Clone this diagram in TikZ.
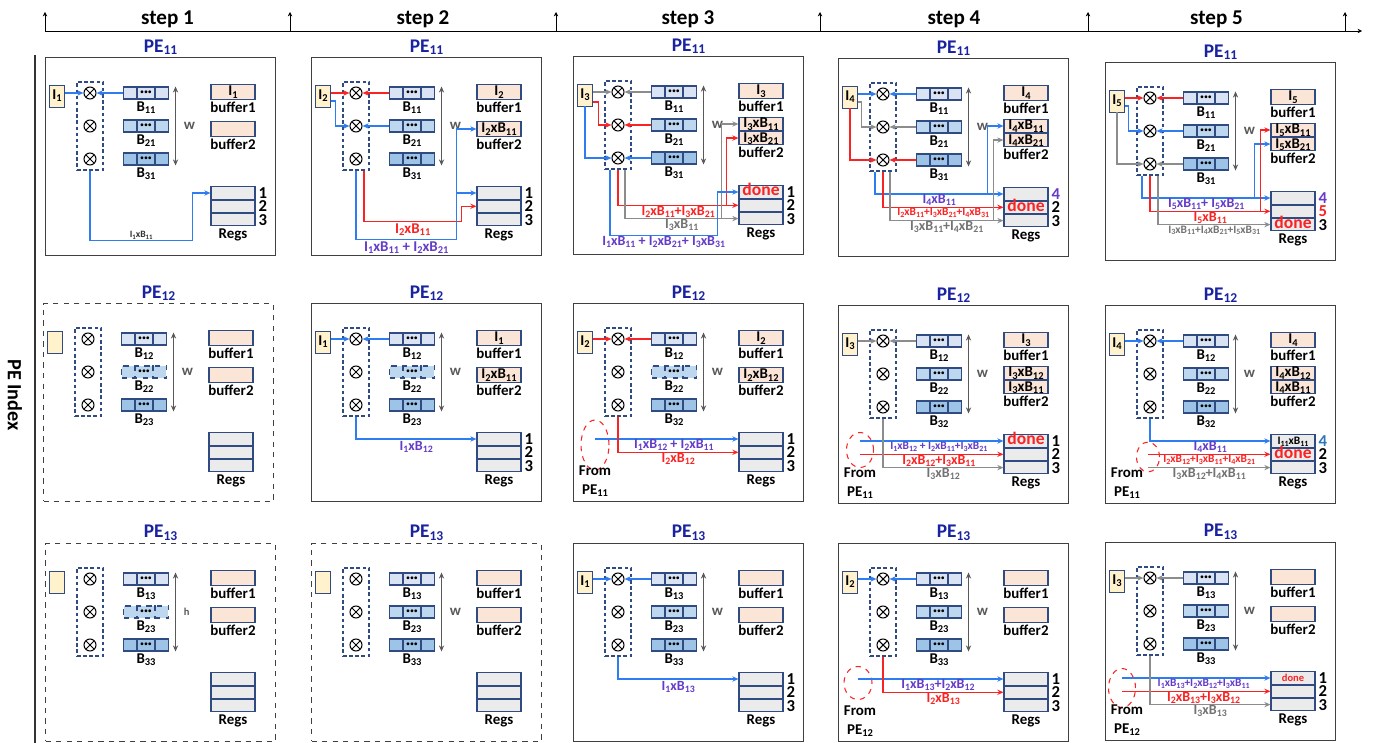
\documentclass[tikz,border=0pt]{standalone}
\usepackage{fontspec}
\setmainfont{Carlito}
\usepackage{graphicx}
\usepackage{xcolor}
\usepackage{tikz}
\usetikzlibrary{arrows.meta,positioning,shapes.geometric}

\definecolor{peblue}{RGB}{25,35,160}
\definecolor{sumpurple}{RGB}{100,60,200}
\definecolor{wireblue}{RGB}{45,125,240}
\definecolor{wirered}{RGB}{250,35,35}
\definecolor{wiregray}{RGB}{140,140,140}
\definecolor{numblue}{RGB}{46,117,182}
\definecolor{edgeblue}{RGB}{47,75,130}
\definecolor{infill}{RGB}{255,242,204}
\definecolor{buffill}{RGB}{251,229,214}
\definecolor{regfill}{RGB}{235,235,235}
\definecolor{bone}{RGB}{218,227,243}
\definecolor{btwo}{RGB}{189,215,238}
\definecolor{bthree}{RGB}{157,195,230}

\newcommand{\ix}[1]{\raisebox{-0.3ex}{\scalebox{0.7}{#1}}}
\newcommand{\regdone}{\textcolor{wirered}{\fontsize{10}{10}\selectfont done}}

% PE panel: [scope options]{name}{top left}{PE index}{input}{weight rows 1-3}{w label}
\newcommand{\peunit}[9][]{%
  \begin{scope}[shift={#3}, #1]
    \node[pebox] (#2) at (0,0) {};
    \node[pename] at (#2.north) {PE\ix{#4}};
    \node[ibox] (#2-i) at (12,39) {#5};
    \node[mulcol] (#2-mul) at (45,69) {};
    \foreach \k/\yy/\cc/\bst/\lab in {1/36/bone/bedge/{#6}, 2/69/btwo/bmid/{#7}, 3/102/bthree/bedge/{#8}}{
      \node[mul] (#2-m\k) at (45,\yy) {};
      \node[brow, \bst, fill=\cc] (#2-b\k) at (101,\yy) {\textbullet\textbullet\textbullet};
      \draw[\bst] ([xshift=-0.18cm]#2-b\k.north) -- ([xshift=-0.18cm]#2-b\k.south)
        ([xshift=0.18cm]#2-b\k.north) -- ([xshift=0.18cm]#2-b\k.south);
      \node[tag, below=0pt of #2-b\k] {\lab};
    }
    \draw[warrow] ([xshift=0.13cm]#2-b1.north east) -- ([xshift=0.13cm]#2-b3.south east)
      node[midway, right=1pt] {#9};
  \end{scope}}

% buffers: name, buffer1, buffer2, second cell of buffer2
\newcommand{\pebufs}[4]{%
  \node[buf] (#1-buf1) at ([shift={(188,35)}]#1.north west) {#2};
  \node[tag, below=0pt of #1-buf1] {buffer1};
  \if\relax\detokenize{#4}\relax
    \node[buf] (#1-buf2) at ([shift={(188,72)}]#1.north west) {#3};
    \node[tag, below=0pt of #1-buf2] {buffer2};
  \else
    \node[buf, minimum height=0.26cm] (#1-buf2) at ([shift={(188,68)}]#1.north west) {#3};
    \node[buf, minimum height=0.26cm, below=0pt of #1-buf2] (#1-buf3) {#4};
    \node[tag, below=0pt of #1-buf3] {buffer2};
  \fi}

% registers: name, rows 1-3, row numbers 1-3
\newcommand{\peregs}[7]{%
  \node[reg] (#1-r1) at ([shift={(188,136)}]#1.north west) {#2};
  \node[reg, below=0pt of #1-r1] (#1-r2) {#3};
  \node[reg, below=0pt of #1-r2] (#1-r3) {#4};
  \node[regno, right=1.5pt of #1-r1] {#5};
  \node[regno, right=1.5pt of #1-r2] {#6};
  \node[regno, right=1.5pt of #1-r3] {#7};
  \node[tag, below=0pt of #1-r3] {Regs};}

% dashed ring for partial sums coming from the PE above
\newcommand{\pefrom}[4]{%
  \node[fromring, #3] (#1-e) at ([shift={#2}]#1.north west) {};
  \node[fromtext] at ([shift={(22,178)}]#1.north west) {From\\PE\ix{#4}};}

\begin{document}
\begin{tikzpicture}[x=0.02cm, y=-0.02cm, font=\bfseries\fontsize{8.5}{10}\selectfont,
    >={Stealth[length=3.5pt, width=3pt]},
    pebox/.style={draw=black!75, line width=0.6pt, minimum width=4.6cm, minimum height=3.96cm, anchor=north west, inner sep=0},
    pename/.style={above=1pt, inner sep=0, text=peblue, font=\bfseries\fontsize{11}{12}\selectfont},
    ibox/.style={draw=edgeblue, fill=infill, minimum width=0.3cm, minimum height=0.44cm, inner sep=0},
    mulcol/.style={draw=edgeblue, line width=0.6pt, dash pattern=on 2pt off 1.5pt, minimum width=0.52cm, minimum height=1.76cm, inner sep=0},
    mul/.style={circle, draw, line width=0.6pt, minimum size=0.24cm, inner sep=0,
      path picture={\draw[line width=0.6pt] (path picture bounding box.south west) -- (path picture bounding box.north east)
        (path picture bounding box.north west) -- (path picture bounding box.south east);}},
    brow/.style={minimum width=0.9cm, minimum height=0.24cm, inner sep=0, font=\fontsize{4.5}{4.5}\selectfont},
    bedge/.style={draw=edgeblue, line width=0.6pt},
    bmid/.style={draw=edgeblue, line width=0.6pt},
    tag/.style={inner sep=1pt},
    warrow/.style={<->, black!65, line width=0.7pt},
    buf/.style={draw=edgeblue, line width=0.6pt, fill=buffill, minimum width=0.88cm, minimum height=0.3cm, inner sep=0, text height=5.5pt, text depth=1pt},
    reg/.style={draw=edgeblue, line width=0.6pt, fill=regfill, minimum width=0.88cm, minimum height=0.245cm, inner sep=0, text height=5pt, text depth=0.5pt},
    regno/.style={inner sep=0, font=\bfseries\fontsize{9.5}{9.5}\selectfont},
    fromring/.style={ellipse, draw=wirered, dashed, line width=0.6pt, inner sep=0},
    fromtext/.style={align=center, inner sep=0, font=\bfseries\fontsize{8.5}{11}\selectfont},
    wb/.style={->, wireblue, line width=0.7pt},
    wr/.style={->, wirered, line width=0.7pt},
    wg/.style={->, wiregray, line width=0.7pt},
    sumtext/.style={inner sep=0.5pt, text height=4.8pt, text depth=0.6pt, font=\bfseries\fontsize{8}{8}\selectfont},
    sb/.style={sumtext, text=sumpurple},
    sr/.style={sumtext, text=wirered},
    sg/.style={sumtext, text=black!55},
    sumsmall/.style={font=\bfseries\fontsize{6.5}{7}\selectfont, text height=4pt},
    sumtiny/.style={font=\bfseries\fontsize{5.5}{6}\selectfont, text height=3.5pt},
    tick/.style={->, black, line width=0.5pt, >={Stealth[length=2.5pt, width=2.5pt]}},
    steptext/.style={above=1.5pt, inner sep=0, font=\bfseries\fontsize{12}{13}\selectfont}]
  \useasboundingbox (0,0) rectangle (1374,743);

  % time axis
  \foreach \k/\xx in {0/45,1/290,2/556,3/820,4/1088,5/1345}{
    \coordinate (t\k) at (\xx,31);
    \draw[tick] (t\k) -- ++(0,-19);
  }
  \coordinate (tend) at (1362,31);
  \draw[tick] (t0) -- (tend);
  \foreach \a/\b/\n in {0/1/1,1/2/2,2/3/3,3/4/4,4/5/5}
    \path (t\a) -- (t\b) node[midway, steptext] {step \n};
  \draw[black!80, line width=0.6pt] (35,55) -- (35,743);
  \node[rotate=-90, font=\bfseries\fontsize{11.5}{12}\selectfont] at (15,395) {PE Index};

  % step 1
  \peunit{s1a}{(45,57)}{11}{I\ix{1}}{B\ix{11}}{B\ix{21}}{B\ix{31}}{w}
  \pebufs{s1a}{I\ix{1}}{}{}
  \peregs{s1a}{}{}{}{1}{2}{3}
  \draw[wb] (s1a-i.east |- s1a-m1) -- (s1a-m1);
  \draw[wb] (s1a-b1) -- (s1a-m1);
  \draw[wb] (s1a-mul.south) -- ++(0,70) -| ([xshift=-0.36cm]s1a-r1.west)
    node[pos=0.25, above, sumtext, sumtiny, text=black!80] {I\ix{1}xB\ix{11}} -- (s1a-r1);

  \peunit[pebox/.append style=dashed, bmid/.append style=dashed]{s1b}{(43,303)}{12}{}{B\ix{12}}{B\ix{22}}{B\ix{23}}{w}
  \pebufs{s1b}{}{}{}
  \peregs{s1b}{}{}{}{}{}{}

  \peunit[pebox/.append style=dashed, bmid/.append style=dashed]{s1c}{(45,543)}{13}{}{B\ix{13}}{B\ix{23}}{B\ix{33}}{\fontsize{6}{6}\selectfont h}
  \pebufs{s1c}{}{}{}
  \peregs{s1c}{}{}{}{}{}{}

  % step 2
  \peunit{s2a}{(311,57)}{11}{I\ix{2}}{B\ix{11}}{B\ix{21}}{B\ix{31}}{w}
  \pebufs{s2a}{I\ix{2}}{I\ix{2}xB\ix{11}}{}
  \peregs{s2a}{}{}{}{1}{2}{3}
  \draw[wr] (s2a-i.east |- s2a-m1) -- (s2a-m1);
  \draw[wb] ([yshift=-0.1cm]s2a-i.east) -- ++(5,0) |- (s2a-m2);
  \draw[wr] (s2a-b1) -- (s2a-m1);
  \draw[wb] (s2a-b2) -- (s2a-m2);
  \draw[wr] ([xshift=0.16cm]s2a-mul.south) -- ++(0,51) -| ([xshift=-0.3cm]s2a-r2.west)
    node[pos=0.25, below=1pt, sr, font=\bfseries\fontsize{8.5}{9}\selectfont] {I\ix{2}xB\ix{11}} -- (s2a-r2);
  \draw[wb] (s2a-mul.south) -- ++(0,69) -| ([xshift=-0.4cm]s2a-r1.west)
    node[pos=0.25, below=1pt, sb, font=\bfseries\fontsize{8.5}{9}\selectfont] {I\ix{1}xB\ix{11} + I\ix{2}xB\ix{21}} -- (s2a-r1);
  \draw[wb] ([xshift=-0.4cm]s2a-r1.west) |- (s2a-buf2);

  \peunit[bmid/.append style=dashed]{s2b}{(311,303)}{12}{I\ix{1}}{B\ix{12}}{B\ix{22}}{B\ix{23}}{w}
  \pebufs{s2b}{I\ix{1}}{I\ix{2}xB\ix{11}}{}
  \peregs{s2b}{}{}{}{1}{2}{3}
  \draw[wb] (s2b-i.east |- s2b-m1) -- (s2b-m1);
  \draw[wb] (s2b-b1) -- (s2b-m1);
  \draw[wb] (s2b-mul.south) |- (s2b-r1) node[pos=0.75, below=1pt, sb] {I\ix{1}xB\ix{12}};

  \peunit[pebox/.append style=dashed]{s2c}{(311,543)}{13}{}{B\ix{13}}{B\ix{23}}{B\ix{33}}{w}
  \pebufs{s2c}{}{}{}
  \peregs{s2c}{}{}{}{}{}{}

  % step 3
  \peunit{s3a}{(573,56)}{11}{I\ix{3}}{B\ix{11}}{B\ix{21}}{B\ix{31}}{w}
  \pebufs{s3a}{I\ix{3}}{I\ix{3}xB\ix{11}}{I\ix{3}xB\ix{21}}
  \peregs{s3a}{\regdone}{}{}{1}{2}{3}
  \draw[wg] (s3a-i.east |- s3a-m1) -- (s3a-m1);
  \draw[wr] ([yshift=-0.14cm]s3a-i.east) -- ++(6,0) |- (s3a-m2);
  \draw[wb] (s3a-i.south) |- (s3a-m3);
  \draw[wg] (s3a-b1) -- (s3a-m1);
  \draw[wr] (s3a-b2) -- (s3a-m2);
  \draw[wb] (s3a-b3) -- (s3a-m3);
  \draw[wr] (s3a-mul.south) |- (s3a-r2) node[pos=0.75, below, sr] {I\ix{2}xB\ix{11}+I\ix{3}xB\ix{21}};
  \draw[wr] ([xshift=-0.24cm]s3a-r2.west) |- (s3a-buf3);
  \draw[wg] ([xshift=0.14cm]s3a-mul.south) |- (s3a-r3) node[pos=0.75, below, sg] {I\ix{3}xB\ix{11}};
  \draw[wg] ([xshift=-0.34cm]s3a-r3.west) |- (s3a-buf2);
  \draw[wb] ([xshift=-0.16cm]s3a-mul.south) -- ++(0,66) -| ([xshift=-0.42cm]s3a-r1.west)
    node[pos=0.25, below, sb] {I\ix{1}xB\ix{11} + I\ix{2}xB\ix{21}+ I\ix{3}xB\ix{31}} -- (s3a-r1);

  \peunit[bmid/.append style=dashed]{s3b}{(573,303)}{12}{I\ix{2}}{B\ix{12}}{B\ix{22}}{B\ix{32}}{w}
  \pebufs{s3b}{I\ix{2}}{I\ix{2}xB\ix{12}}{}
  \peregs{s3b}{}{}{}{1}{2}{3}
  \pefrom{s3b}{(22,142)}{minimum width=0.56cm, minimum height=1cm}{11}
  \draw[wr] (s3b-i.east |- s3b-m1) -- (s3b-m1);
  \draw[wr] (s3b-b1) -- (s3b-m1);
  \draw[wb] (s3b-e.center |- s3b-r1) -- (s3b-r1) node[pos=0.55, below, sb] {I\ix{1}xB\ix{12} + I\ix{2}xB\ix{11}};
  \draw[wr] (s3b-mul.south) |- (s3b-r2) node[pos=0.75, below, sr] {I\ix{2}xB\ix{12}};

  \peunit{s3c}{(573,543)}{13}{I\ix{1}}{B\ix{13}}{B\ix{23}}{B\ix{33}}{w}
  \pebufs{s3c}{}{}{}
  \peregs{s3c}{}{}{}{1}{2}{3}
  \draw[wb] (s3c-i.east |- s3c-m1) -- (s3c-m1);
  \draw[wb] (s3c-b1) -- (s3c-m1);
  \draw[wb] (s3c-mul.south) |- (s3c-r1) node[pos=0.75, below=1pt, sb] {I\ix{1}xB\ix{13}};

  % step 4
  \peunit{s4a}{(838,58)}{11}{I\ix{4}}{B\ix{11}}{B\ix{21}}{B\ix{31}}{w}
  \pebufs{s4a}{I\ix{4}}{I\ix{4}xB\ix{11}}{I\ix{4}xB\ix{21}}
  \peregs{s4a}{}{\regdone}{}{\textcolor{sumpurple}{4}}{2}{3}
  \draw[wb] (s4a-i.east |- s4a-m1) -- (s4a-m1);
  \draw[wg] ([yshift=-0.1cm]s4a-i.east) -- ++(4,0) |- (s4a-m2);
  \draw[wr] (s4a-i.south) |- (s4a-m3);
  \draw[wb] (s4a-b1) -- (s4a-m1);
  \draw[wg] (s4a-b2) -- (s4a-m2);
  \draw[wr] (s4a-b3) -- (s4a-m3);
  \draw[wb] ([xshift=-0.16cm]s4a-mul.south) |- (s4a-r1) node[pos=0.75, below, sb] {I\ix{4}xB\ix{11}};
  \draw[wb] ([xshift=-0.32cm]s4a-r1.west) |- (s4a-buf2);
  \draw[wr] (s4a-mul.south) |- (s4a-r2) node[pos=0.75, below, sr, sumsmall] {I\ix{2}xB\ix{11}+I\ix{3}xB\ix{21}+I\ix{4}xB\ix{31}};
  \draw[wg] ([xshift=0.14cm]s4a-mul.south) |- (s4a-r3) node[pos=0.75, below, sg] {I\ix{3}xB\ix{11}+I\ix{4}xB\ix{21}};
  \draw[wg] ([xshift=-0.2cm]s4a-r3.west) |- (s4a-buf3);

  \peunit{s4b}{(838,305)}{12}{I\ix{3}}{B\ix{12}}{B\ix{22}}{B\ix{32}}{w}
  \pebufs{s4b}{I\ix{3}}{I\ix{3}xB\ix{12}}{I\ix{3}xB\ix{11}}
  \peregs{s4b}{\regdone}{}{}{1}{2}{3}
  \pefrom{s4b}{(22,145)}{minimum width=0.54cm, minimum height=0.7cm}{11}
  \draw[wg] (s4b-i.east |- s4b-m1) -- (s4b-m1);
  \draw[wg] (s4b-b1) -- (s4b-m1);
  \draw[wb] (s4b-e.center |- s4b-r1) -- (s4b-r1) node[pos=0.55, below, sb, sumsmall] {I\ix{1}xB\ix{12} + I\ix{2}xB\ix{11}+I\ix{3}xB\ix{21}};
  \draw[wr] (s4b-e.center |- s4b-r2) -- (s4b-r2) node[pos=0.55, below, sr] {I\ix{2}xB\ix{12}+I\ix{3}xB\ix{11}};
  \draw[wg] (s4b-mul.south) |- (s4b-r3) node[pos=0.75, below, sg] {I\ix{3}xB\ix{12}};

  \peunit{s4c}{(838,543)}{13}{I\ix{2}}{B\ix{13}}{B\ix{23}}{B\ix{33}}{w}
  \pebufs{s4c}{}{}{}
  \peregs{s4c}{}{}{}{1}{2}{3}
  \pefrom{s4c}{(20,140)}{minimum width=0.56cm, minimum height=0.66cm}{12}
  \draw[wb] (s4c-i.east |- s4c-m1) -- (s4c-m1);
  \draw[wb] (s4c-b1) -- (s4c-m1);
  \draw[wb] (s4c-e.center |- s4c-r1) -- (s4c-r1) node[pos=0.55, below, sb] {I\ix{1}xB\ix{13}+I\ix{2}xB\ix{12}};
  \draw[wr] (s4c-mul.south) |- (s4c-r2) node[pos=0.75, below, sr] {I\ix{2}xB\ix{13}};

  % step 5
  \peunit{s5a}{(1105,62)}{11}{I\ix{5}}{B\ix{11}}{B\ix{21}}{B\ix{31}}{w}
  \pebufs{s5a}{I\ix{5}}{I\ix{5}xB\ix{11}}{I\ix{5}xB\ix{21}}
  \peregs{s5a}{}{}{\regdone}{\textcolor{sumpurple}{4}}{\textcolor{wirered}{5}}{3}
  \draw[wr] (s5a-i.east |- s5a-m1) -- (s5a-m1);
  \draw[wb] ([yshift=-0.1cm]s5a-i.east) -- ++(4,0) |- (s5a-m2);
  \draw[wg] (s5a-i.south) |- (s5a-m3);
  \draw[wr] (s5a-b1) -- (s5a-m1);
  \draw[wb] (s5a-b2) -- (s5a-m2);
  \draw[wg] (s5a-b3) -- (s5a-m3);
  \draw[wb] ([xshift=-0.16cm]s5a-mul.south) |- (s5a-r1) node[pos=0.75, below, sb] {I\ix{5}xB\ix{11}+ I\ix{5}xB\ix{21}};
  \draw[wb] ([xshift=-0.32cm]s5a-r1.west) |- (s5a-buf3);
  \draw[wr] (s5a-mul.south) |- (s5a-r2) node[pos=0.75, below, sr] {I\ix{5}xB\ix{11}};
  \draw[wr] ([xshift=-0.2cm]s5a-r2.west) |- (s5a-buf2);
  \draw[wg] ([xshift=0.16cm]s5a-mul.south) |- (s5a-r3) node[pos=0.75, below, sg, sumsmall] {I\ix{3}xB\ix{11}+I\ix{4}xB\ix{21}+I\ix{5}xB\ix{31}};

  \peunit{s5b}{(1105,305)}{12}{I\ix{4}}{B\ix{12}}{B\ix{22}}{B\ix{32}}{w}
  \pebufs{s5b}{I\ix{4}}{I\ix{4}xB\ix{12}}{I\ix{4}xB\ix{11}}
  \peregs{s5b}{\fontsize{6.5}{6.5}\selectfont I\ix{11}xB\ix{11}}{\regdone}{}{\textcolor{numblue}{4}}{2}{3}
  \pefrom{s5b}{(43,152)}{minimum width=0.46cm, minimum height=0.6cm}{11}
  \draw[wb] (s5b-i.east |- s5b-m1) -- (s5b-m1);
  \draw[wb] (s5b-b1) -- (s5b-m1);
  \draw[wb] (s5b-mul.south) |- (s5b-r1) node[pos=0.75, below, sb] {I\ix{4}xB\ix{11}};
  \draw[wr] (s5b-e.center |- s5b-r2) -- (s5b-r2) node[pos=0.5, below, sr, sumsmall] {I\ix{2}xB\ix{12}+I\ix{3}xB\ix{11}+I\ix{4}xB\ix{21}};
  \draw[wg] (s5b-e.center |- s5b-r3) -- (s5b-r3) node[pos=0.5, below, sg] {I\ix{3}xB\ix{12}+I\ix{4}xB\ix{11}};

  \peunit{s5c}{(1105,542)}{13}{I\ix{3}}{B\ix{13}}{B\ix{23}}{B\ix{33}}{w}
  \pebufs{s5c}{}{}{}
  \peregs{s5c}{\textcolor{wirered}{\fontsize{6}{6}\selectfont done}}{}{}{1}{2}{3}
  \pefrom{s5c}{(17,146)}{minimum width=0.54cm, minimum height=0.78cm}{12}
  \draw[wg] (s5c-i.east |- s5c-m1) -- (s5c-m1);
  \draw[wg] (s5c-b1) -- (s5c-m1);
  \draw[wb] (s5c-e.center |- s5c-r1) -- (s5c-r1) node[pos=0.55, below, sb, sumsmall] {I\ix{1}xB\ix{13}+I\ix{2}xB\ix{12}+I\ix{3}xB\ix{11}};
  \draw[wr] (s5c-e.center |- s5c-r2) -- (s5c-r2) node[pos=0.55, below, sr] {I\ix{2}xB\ix{13}+I\ix{3}xB\ix{12}};
  \draw[wg] (s5c-mul.south) |- (s5c-r3) node[pos=0.75, below, sg] {I\ix{3}xB\ix{13}};
\end{tikzpicture}
\end{document}
